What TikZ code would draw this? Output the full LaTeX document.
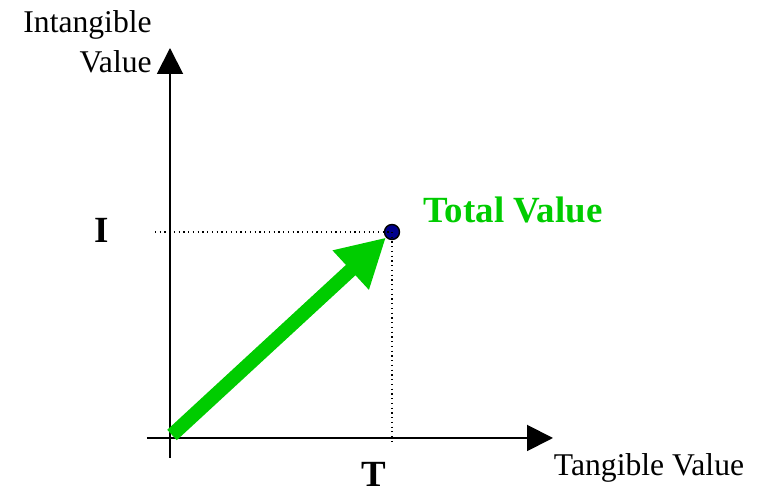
\documentclass[tikz,border=0pt]{standalone}
\usepackage{fontspec}
\setmainfont{Liberation Serif}
\usepackage{tikz}
\usetikzlibrary{arrows.meta}

\definecolor{valgreen}{RGB}{0,204,0}
\definecolor{dotblue}{RGB}{0,0,140}

\tikzset{
  axis/.style={line width=1.1pt, -{Triangle[length=0.52cm,width=0.52cm]}},
  guide/.style={dotted, line width=0.7pt},
  lbl/.style={font=\fontsize{18}{22.7}\selectfont, inner sep=0pt},
  blbl/.style={font=\fontsize{21}{24}\selectfont\bfseries, inner sep=0pt}
}

\begin{document}
\begin{tikzpicture}
    \useasboundingbox (-3.4,-1.04) rectangle (11.9,8.76);

    % Axes
    \coordinate (xstart) at (-0.46,0);
    \coordinate (xend) at (7.66,0);
    \coordinate (ystart) at (0,-0.4);
    \coordinate (yend) at (0,7.8);
    \draw[axis] (xstart) -- (xend);
    \draw[axis] (ystart) -- (yend);

    % Point and guides
    \node[circle, draw=black, fill=dotblue, line width=0.8pt, minimum size=0.3cm, inner sep=0pt] (tv) at (4.44,4.12) {};
    \coordinate (ileft) at (-0.3,4.12);
    \coordinate (tbottom) at (4.44,-0.07);
    \draw[guide] (ileft) -- (tv.center);
    \draw[guide] (tv.center) -- (tbottom);

    % Value arrow
    \coordinate (vstart) at (0.04,0.06);
    \draw[valgreen, line width=8pt, -{Triangle[length=0.96cm,width=1cm]}] (vstart) -- (tv);

    % Labels
    \node[lbl, anchor=east, align=right] (ylab) at (-0.36,7.92) {Intangible\\Value};
    \node[lbl] (xlab) at (9.58,-0.6) {Tangible Value};
    \node[blbl] (ilab) at (-1.36,4.16) {I};
    \node[blbl, anchor=base] (tlab) at (4.08,-0.97) {T};
    \node[blbl, text=valgreen] (totlab) at (6.86,4.56) {Total Value};
\end{tikzpicture}
\end{document}
